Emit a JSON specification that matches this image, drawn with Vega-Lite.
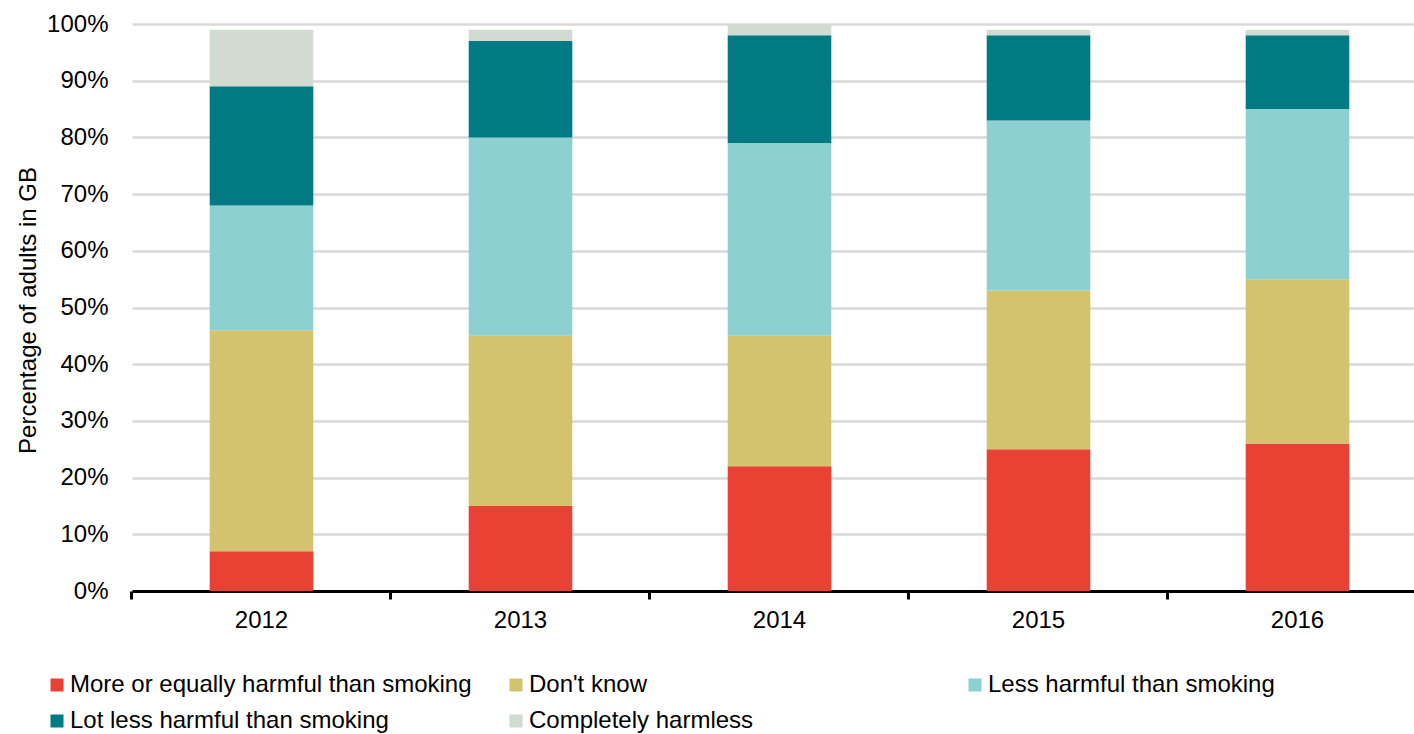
{
  "$schema": "https://vega.github.io/schema/vega-lite/v6.json",
  "autosize": "none",
  "width": 1295,
  "height": 567,
  "padding": {"left": 132, "top": 24, "right": 0, "bottom": 143},
  "background": "white",
  "config": {
    "font": "Liberation Sans",
    "view": {"stroke": null}
  },
  "data": {
    "values": [
      {"year": "2012", "view": "More or equally harmful than smoking", "rank": 1, "pct": 7},
      {"year": "2012", "view": "Don't know", "rank": 2, "pct": 39},
      {"year": "2012", "view": "Less harmful than smoking", "rank": 3, "pct": 22},
      {"year": "2012", "view": "Lot less harmful than smoking", "rank": 4, "pct": 21},
      {"year": "2012", "view": "Completely harmless", "rank": 5, "pct": 10},
      {"year": "2013", "view": "More or equally harmful than smoking", "rank": 1, "pct": 15},
      {"year": "2013", "view": "Don't know", "rank": 2, "pct": 30},
      {"year": "2013", "view": "Less harmful than smoking", "rank": 3, "pct": 35},
      {"year": "2013", "view": "Lot less harmful than smoking", "rank": 4, "pct": 17},
      {"year": "2013", "view": "Completely harmless", "rank": 5, "pct": 2},
      {"year": "2014", "view": "More or equally harmful than smoking", "rank": 1, "pct": 22},
      {"year": "2014", "view": "Don't know", "rank": 2, "pct": 23},
      {"year": "2014", "view": "Less harmful than smoking", "rank": 3, "pct": 34},
      {"year": "2014", "view": "Lot less harmful than smoking", "rank": 4, "pct": 19},
      {"year": "2014", "view": "Completely harmless", "rank": 5, "pct": 2},
      {"year": "2015", "view": "More or equally harmful than smoking", "rank": 1, "pct": 25},
      {"year": "2015", "view": "Don't know", "rank": 2, "pct": 28},
      {"year": "2015", "view": "Less harmful than smoking", "rank": 3, "pct": 30},
      {"year": "2015", "view": "Lot less harmful than smoking", "rank": 4, "pct": 15},
      {"year": "2015", "view": "Completely harmless", "rank": 5, "pct": 1},
      {"year": "2016", "view": "More or equally harmful than smoking", "rank": 1, "pct": 26},
      {"year": "2016", "view": "Don't know", "rank": 2, "pct": 29},
      {"year": "2016", "view": "Less harmful than smoking", "rank": 3, "pct": 30},
      {"year": "2016", "view": "Lot less harmful than smoking", "rank": 4, "pct": 13},
      {"year": "2016", "view": "Completely harmless", "rank": 5, "pct": 1}
    ]
  },
  "mark": {"type": "bar"},
  "encoding": {
    "x": {
      "field": "year",
      "type": "ordinal",
      "scale": {"paddingInner": 0.6, "paddingOuter": 0.3},
      "axis": {
        "title": null,
        "labelAngle": 0,
        "labelFontSize": 24,
        "labelColor": "#000000",
        "labelPadding": 9,
        "domainColor": "#000000",
        "domainWidth": 3,
        "tickColor": "#000000",
        "tickWidth": 3,
        "tickSize": 8,
        "bandPosition": -0.75,
        "grid": false
      }
    },
    "y": {
      "field": "pct",
      "type": "quantitative",
      "stack": "zero",
      "scale": {"domain": [0, 100], "nice": false},
      "axis": {
        "title": "Percentage of adults in GB",
        "titleFontSize": 24,
        "titleFontWeight": "normal",
        "titleColor": "#000000",
        "titleX": -104,
        "titleY": 286,
        "titleAngle": -90,
        "titleAlign": "center",
        "titleBaseline": "middle",
        "values": [0, 10, 20, 30, 40, 50, 60, 70, 80, 90, 100],
        "labelExpr": "datum.value + '%'",
        "labelFontSize": 24,
        "labelColor": "#000000",
        "labelPadding": 24,
        "ticks": false,
        "domain": false,
        "grid": true,
        "gridColor": "#D9D9D9",
        "gridWidth": 2.5
      }
    },
    "color": {
      "field": "view",
      "type": "nominal",
      "scale": {
        "domain": ["More or equally harmful than smoking", "Don't know", "Less harmful than smoking", "Lot less harmful than smoking", "Completely harmless"],
        "range": ["#E94235", "#D3C36E", "#8CD0D1", "#017A84", "#D1DBD2"]
      },
      "legend": {
        "title": null,
        "orient": "none",
        "legendX": -87,
        "legendY": 649,
        "direction": "horizontal",
        "columns": 3,
        "gridAlign": "all",
        "columnPadding": 32,
        "rowPadding": 12,
        "padding": 0,
        "symbolType": "square",
        "symbolSize": 169,
        "symbolStrokeWidth": 0,
        "labelFontSize": 24,
        "labelColor": "#000000",
        "labelOffset": 1,
        "labelLimit": 600
      }
    },
    "order": {"field": "rank", "type": "quantitative", "sort": "ascending"}
  }
}
